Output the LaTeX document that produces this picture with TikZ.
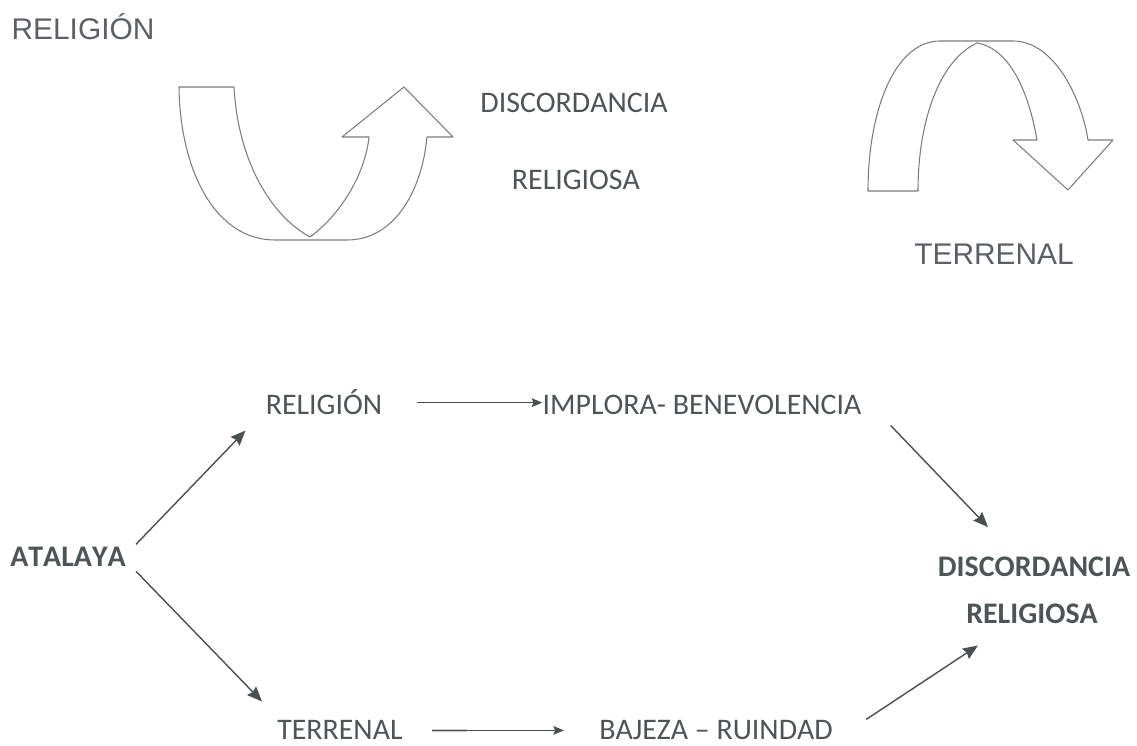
\documentclass[tikz,border=0pt]{standalone}
\usepackage{fontspec}
\setmainfont{Carlito}[Kerning=Off]
\newfontfamily\arialfont{Liberation Sans}[Kerning=Off]
\usetikzlibrary{arrows.meta}
\usetikzlibrary{positioning}

\definecolor{gristexto}{HTML}{4F5457}
\definecolor{grisarial}{HTML}{5C6064}
\definecolor{grisflecha}{HTML}{4A4F52}
\definecolor{grisforma}{HTML}{7C7C7C}

\tikzset{
    texto/.style={inner sep=0pt, anchor=base, text=gristexto, font=\fontsize{17}{20}\selectfont},
    negrita/.style={texto, font=\fontsize{17}{20}\selectfont\bfseries},
    arial/.style={texto, text=grisarial, font=\arialfont\fontsize{17}{20}\selectfont},
    flecha/.style={draw=grisflecha, line width=0.8pt, -{Stealth[length=8.5pt,width=7pt,inset=1pt]}},
    flechafina/.style={draw=grisflecha, line width=0.6pt, -{Stealth[length=6pt,width=5pt,inset=1pt]}},
    forma/.style={draw=grisforma, line width=0.6pt, line join=round}
}

\begin{document}
\begin{tikzpicture}[x=0.02cm, y=-0.02cm]
    \useasboundingbox (0,0) rectangle (1137,746);

    % parte superior
    \node [arial] (relTop) at (83,40) {RELIGIÓN};
    \node [texto] (discTop) at (574,113) {DISCORDANCIA};
    \node [texto] (relgTop) at (576,190) {RELIGIOSA};
    \node [arial] (terTop) at (994,265) {TERRENAL};

    \draw [forma] (179,87) -- (234,87) .. controls (238,160) and (270,215) .. (310,237)
        .. controls (340,215) and (365,175) .. (369,137) -- (342,137) -- (404,87) -- (453,137) -- (427,137)
        .. controls (422,190) and (395,240) .. (347,240) -- (275,240)
        .. controls (215,240) and (180,170) .. cycle;

    \draw [forma] (868,191) .. controls (868,110) and (895,41) .. (940,41) -- (1013,41)
        .. controls (1055,41) and (1082,100) .. (1088,140) -- (1113,140) -- (1068,190) -- (1013,140) -- (1037,140)
        .. controls (1028,88) and (1008,48) .. (977,43)
        .. controls (940,60) and (918,120) .. (918,191) -- cycle;

    % esquema inferior
    \node [negrita] (atalaya) at (68,567) {ATALAYA};
    \node [texto] (relig) at (324,415) {RELIGIÓN};
    \node [texto] (implora) at (702,415) {IMPLORA- BENEVOLENCIA};
    \node [texto] (terr) at (340,740) {TERRENAL};
    \node [texto] (bajeza) at (716,740) {BAJEZA -- RUINDAD};
    \node [negrita] (disc) at (1034,577) {DISCORDANCIA};
    \node [negrita] (relgB) at (1032,623) {RELIGIOSA};

    \draw [flecha] ([shift={(10,-13)}]atalaya.east) -- ([shift={(-20,15)}]relig.south west);
    \draw [flecha] ([shift={(10,14)}]atalaya.east) -- ([shift={(-15,-19)}]terr.north west);
    \draw [flechafina, shorten <=0.68cm] (relig.east) -- (relig.east -| implora.west);
    \draw [flecha] ([shift={(29,10)}]implora.south east) -- ([shift={(-46,-30)}]disc.north);
    \draw [gray!40, line width=1.3pt, shorten <=0.58cm, shorten >=-0.7cm] (terr.east) -- ([shift={(29,0)}]terr.east);
    \draw [flechafina, shorten <=0.58cm, shorten >=0.7cm] (terr.east) -- (terr.east -| bajeza.west);
    \draw [flecha] ([shift={(33,-1)}]bajeza.north east) -- ([shift={(12,22)}]relgB.south west);
\end{tikzpicture}
\end{document}
